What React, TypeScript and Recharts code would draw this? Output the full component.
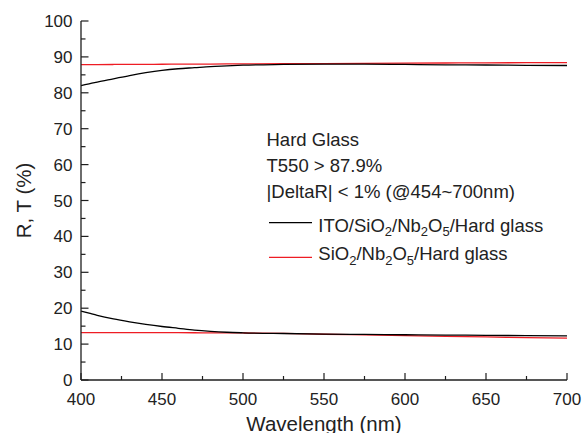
import React from 'react';
import { LineChart, Line, XAxis, YAxis, Legend, Label } from 'recharts';

const wavelength = [400, 405, 410, 420, 430, 440, 450, 460, 470, 480, 490, 500, 525, 550, 575, 600, 625, 650, 675, 700];
const itoT = [82.0, 82.5, 83.0, 83.9, 84.8, 85.6, 86.25, 86.7, 87.0, 87.3, 87.5, 87.7, 87.9, 88.0, 88.0, 87.9, 87.8, 87.75, 87.65, 87.6];
const sioT = [87.85, 87.86, 87.87, 87.89, 87.91, 87.93, 87.95, 87.97, 87.99, 88.01, 88.03, 88.05, 88.1, 88.15, 88.2, 88.25, 88.3, 88.35, 88.38, 88.4];
const itoR = [19.2, 18.6, 18.0, 17.0, 16.2, 15.5, 14.9, 14.4, 13.9, 13.55, 13.3, 13.15, 12.95, 12.8, 12.7, 12.6, 12.5, 12.45, 12.35, 12.3];
const sioR = [13.2, 13.2, 13.2, 13.2, 13.2, 13.2, 13.2, 13.18, 13.16, 13.14, 13.12, 13.1, 13.0, 12.75, 12.55, 12.35, 12.15, 12.0, 11.8, 11.65];

const xTicks = [400, 425, 450, 475, 500, 525, 550, 575, 600, 625, 650, 675, 700];
const yTicks = [0, 5, 10, 15, 20, 25, 30, 35, 40, 45, 50, 55, 60, 65, 70, 75, 80, 85, 90, 95, 100];

const annotation = ['Hard Glass', 'T550 > 87.9%', '|DeltaR| < 1% (@454~700nm)'];
const legendItems = [
  { color: '#000000', lineY: 12.7, textY: 21.7, parts: [['ITO/SiO', false], ['2', true], ['/Nb', false], ['2', true], ['O', false], ['5', true], ['/Hard glass', false]] },
  { color: '#ee1c24', lineY: 47.3, textY: 50.0, parts: [['SiO', false], ['2', true], ['/Nb', false], ['2', true], ['O', false], ['5', true], ['/Hard glass', false]] },
];

const data = wavelength.map((w, i) => ({ w, itoT: itoT[i], sioT: sioT[i], itoR: itoR[i], sioR: sioR[i] }));

const FONT = '"Liberation Sans", Arial, Helvetica, sans-serif';
const AX = '#1e1e1e';
const RED = '#ee1c24';

const BottomTick = (p: any) => {
  const v = p.payload.value;
  const major = v % 50 === 0;
  return (
    <g>
      <line x1={p.x} x2={p.x} y1={p.y} y2={p.y - (major ? 7 : 4)} stroke={AX} strokeWidth={1.2} />
      {major && (
        <text x={p.x} y={p.y + 25} textAnchor="middle" fontSize={17} fill="#222" fontFamily={FONT}>{v}</text>
      )}
    </g>
  );
};
const TopTick = (p: any) => {
  const v = p.payload.value;
  const major = v % 50 === 0;
  return <line x1={p.x} x2={p.x} y1={p.y} y2={p.y + (major ? 7 : 4)} stroke={AX} strokeWidth={1.2} />;
};
const LeftTick = (p: any) => {
  const v = p.payload.value;
  const major = v % 10 === 0;
  return (
    <g>
      <line x1={p.x} x2={p.x + (major ? 7.5 : 4.5)} y1={p.y} y2={p.y} stroke={AX} strokeWidth={1.2} />
      {major && (
        <text x={p.x - 8.5} y={p.y + 6} textAnchor="end" fontSize={17} fill="#222" fontFamily={FONT}>{v}</text>
      )}
    </g>
  );
};
const RightTick = (p: any) => {
  const v = p.payload.value;
  const major = v % 10 === 0;
  return <line x1={p.x - (major ? 5 : 3)} x2={p.x} y1={p.y} y2={p.y} stroke="#888" strokeWidth={1} />;
};

const LegendContent = () => (
  <svg width={300} height={72} style={{ display: 'block', overflow: 'visible' }}>
    {legendItems.map((it, i) => (
      <g key={i}>
        <line x1={9} x2={52} y1={it.lineY} y2={it.lineY} stroke={it.color} strokeWidth={1.3} />
        <text x={58.3} y={it.textY} fontSize={18.5} fill="#222" fontFamily={FONT}>
          {it.parts.map(([t, sub], j) => {
            const prevSub = j > 0 && it.parts[j - 1][1];
            const dy = sub ? 4.5 : prevSub ? -4.5 : 0;
            return (
              <tspan key={j} dy={dy} fontSize={sub ? 13 : 18.5}>{t as string}</tspan>
            );
          })}
        </text>
      </g>
    ))}
  </svg>
);

export default function App() {
  return (
    <div style={{ position: 'absolute', left: 0, top: 0, width: 584, height: 433, background: '#fff' }}>
      <LineChart width={584} height={433} data={data} margin={{ top: 21, right: 17, bottom: 0, left: 0 }}>
        <XAxis
          xAxisId="b" dataKey="w" type="number" domain={[400, 700]} ticks={xTicks} interval={0}
          height={53} tickSize={0} tickMargin={0} tickLine={false}
          axisLine={{ stroke: AX, strokeWidth: 1.3 }} tick={<BottomTick />}
        >
          <Label
            content={(lp: any) => {
              const vb = lp.viewBox;
              return (
                <text x={vb.x + vb.width / 2} y={vb.y + 51} textAnchor="middle" fontSize={20.5} fill="#222" fontFamily={FONT}>
                  Wavelength (nm)
                </text>
              );
            }}
          />
        </XAxis>
        <XAxis
          xAxisId="t" orientation="top" dataKey="w" type="number" domain={[400, 700]} ticks={xTicks} interval={0}
          height={0} tickSize={0} tickMargin={0} tickLine={false}
          axisLine={{ stroke: '#555', strokeWidth: 1.2 }} tick={<TopTick />}
        />
        <YAxis
          yAxisId="l" type="number" domain={[0, 100]} ticks={yTicks} interval={0}
          width={81} tickSize={0} tickMargin={0} tickLine={false}
          axisLine={{ stroke: AX, strokeWidth: 1.3 }} tick={<LeftTick />}
        >
          <Label
            content={(lp: any) => {
              const vb = lp.viewBox;
              const cy = vb.y + vb.height / 2;
              return (
                <text x={30.7} y={cy} transform={`rotate(-90 30.7 ${cy})`} textAnchor="middle" fontSize={20.5} fill="#222" fontFamily={FONT}>
                  R, T (%)
                </text>
              );
            }}
          />
        </YAxis>
        <YAxis
          yAxisId="r" orientation="right" type="number" domain={[0, 100]} ticks={yTicks} interval={0}
          width={0} tickSize={0} tickMargin={0} tickLine={false}
          axisLine={{ stroke: AX, strokeWidth: 1.3 }} tick={<RightTick />}
        />
        <Line xAxisId="b" yAxisId="l" type="monotone" dataKey="sioT" stroke={RED} strokeWidth={1.3} dot={false} isAnimationActive={false} />
        <Line xAxisId="b" yAxisId="l" type="monotone" dataKey="sioR" stroke={RED} strokeWidth={1.3} dot={false} isAnimationActive={false} />
        <Line xAxisId="b" yAxisId="l" type="monotone" dataKey="itoT" stroke="#000" strokeWidth={1.3} dot={false} isAnimationActive={false} />
        <Line xAxisId="b" yAxisId="l" type="monotone" dataKey="itoR" stroke="#000" strokeWidth={1.3} dot={false} isAnimationActive={false} />
        <Legend
          layout="vertical" align="center" verticalAlign="middle"
          wrapperStyle={{ left: 260, top: 210, width: 300, height: 72, margin: 0, padding: 0 }}
          content={<LegendContent />}
        />
      </LineChart>
      <svg width={584} height={433} style={{ position: 'absolute', left: 0, top: 0, pointerEvents: 'none' }}>
        {annotation.map((t, i) => (
          <text key={i} x={266.5} y={145.7 + i * 26} fontSize={18.5} fill="#222" fontFamily={FONT}>{t}</text>
        ))}
      </svg>
    </div>
  );
}
